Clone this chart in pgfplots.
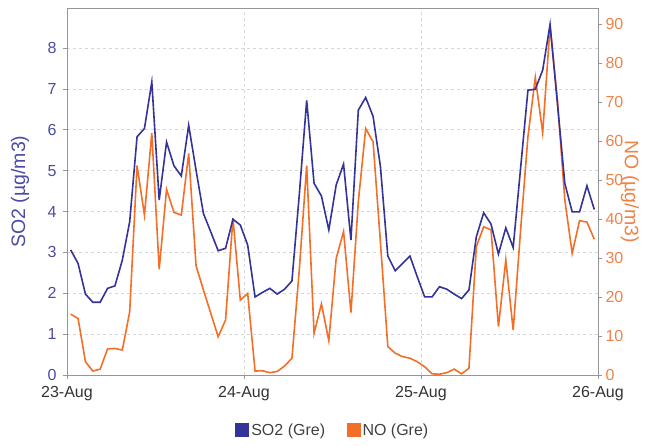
\documentclass[border=0pt]{standalone}
\usepackage{fontspec}
\setmainfont{Liberation Sans}
\usepackage{pgfplots}
\usepackage{pgfplotstable}
\pgfplotsset{compat=1.18}

\definecolor{so2}{RGB}{51,51,153}
\definecolor{no}{RGB}{245,110,40}
\definecolor{so2txt}{RGB}{75,75,165}
\definecolor{notxt}{RGB}{240,130,70}
\definecolor{gridc}{RGB}{215,215,215}
\definecolor{axc}{RGB}{150,150,150}

% hourly readings, hours after 23-Aug 00:00
\pgfplotstableread{
h    so2   no
0.5  3.06  15.6
1.5  2.73  14.5
2.5  1.98  3.4
3.5  1.78  1.0
4.5  1.78  1.5
5.5  2.12  6.7
6.5  2.18  6.8
7.5  2.81  6.4
8.5  3.75  16.2
9.5  5.83  53.7
10.5 6.03  41.0
11.5 7.17  62.0
12.5 4.28  27.1
13.5 5.70  47.6
14.5 5.12  41.7
15.5 4.87  41.0
16.5 6.11  56.8
17.5 5.01  28.0
18.5 3.95  21.8
19.5 3.50  15.8
20.5 3.04  9.8
21.5 3.10  14.1
22.5 3.81  40.2
23.5 3.67  19.2
24.5 3.18  20.9
25.5 1.91  1.0
26.5 2.02  1.1
27.5 2.12  0.6
28.5 1.98  0.9
29.5 2.10  2.3
30.5 2.30  4.3
31.5 4.42  27.0
32.5 6.72  53.7
33.5 4.69  10.7
34.5 4.38  18.2
35.5 3.55  8.8
36.5 4.65  29.9
37.5 5.16  36.8
38.5 3.30  16.0
39.5 6.48  44.4
40.5 6.79  63.2
41.5 6.33  59.8
42.5 5.10  34.0
43.5 2.91  7.3
44.5 2.55  5.6
45.5 2.73  4.7
46.5 2.91  4.3
47.5 2.40  3.4
48.5 1.91  2.1
49.5 1.91  0.3
50.5 2.16  0.2
51.5 2.10  0.6
52.5 1.98  1.5
53.5 1.87  0.3
54.5 2.08  1.7
55.5 3.38  32.9
56.5 3.97  38.0
57.5 3.69  37.2
58.5 2.96  12.4
59.5 3.60  29.5
60.5 3.12  11.5
61.5 5.05  37.0
62.5 6.97  61.1
63.5 6.99  76.3
64.5 7.46  62.1
65.5 8.58  89.5
66.5 6.64  70.5
67.5 4.69  44.9
68.5 3.99  31.2
69.5 3.99  39.6
70.5 4.63  39.2
71.5 4.05  34.8
}\data

\newcommand\tickfont{\fontsize{16}{19}\selectfont}
\newcommand\labfont{\fontsize{19.5}{23}\selectfont}

\pgfplotsset{
  base/.style={
    scale only axis, width=531pt, height=367pt,
    at={(67pt,70pt)}, anchor=south west,
    xmin=0, xmax=72,
    ymin=0,
    /pgf/number format/assume math mode=true,
    tick label style={font=\tickfont},
    axis line style={axc, line width=0.8pt},
    tick style={axc, line width=0.8pt},
    tick align=outside, major tick length=4pt,
  },
}

\begin{document}
\begin{tikzpicture}
\path[use as bounding box] (0,0) rectangle (672pt,445pt);

% frame, grid, SO2 scale
\begin{axis}[base,
  ymax=8.98,
  ytick={0,1,...,8},
  xtick={0,24,48,72},
  xticklabels={23-Aug,24-Aug,25-Aug,26-Aug},
  tick pos=left,
  xmajorgrids, ymajorgrids,
  grid style={dashed, gridc, line width=0.6pt},
  yticklabel style={text=so2txt, xshift=-3pt},
  xticklabel style={text=black!80, yshift=-4pt},
  ylabel={SO2 (µg/m3)},
  ylabel style={font=\labfont, text=so2txt,
    at={(axis description cs:-0.0885,0.5)}, anchor=center},
]
\end{axis}

% NO on the right scale
\begin{axis}[base,
  ymax=94.1,
  ytick={0,10,...,90},
  axis x line=none,
  axis y line*=right,
  yticklabel style={text=notxt},
  ylabel={NO (µg/m3)},
  ylabel style={font=\labfont, text=notxt,
    at={(axis description cs:1.0603,0.5)}, anchor=center, rotate=180},
]
\addplot[no, line width=1.6pt] table[x=h, y=no] {\data};
\end{axis}

% SO2 line on top, with the legend
\begin{axis}[base,
  ymax=8.98,
  hide axis,
  legend columns=2,
  legend style={at={(0.5,-0.15)}, anchor=center, draw=none, fill=none,
    font=\tickfont, text=black!75,
    /tikz/every even column/.append style={column sep=20pt}},
  legend image code/.code={\fill[#1] (-5pt,-6.5pt) rectangle (8pt,6.5pt);},
]
\addplot[so2, line width=1.6pt] table[x=h, y=so2] {\data};
\addlegendentry{SO2 (Gre)}
\addlegendimage{no}
\addlegendentry{NO (Gre)}
\end{axis}
\end{tikzpicture}
\end{document}
